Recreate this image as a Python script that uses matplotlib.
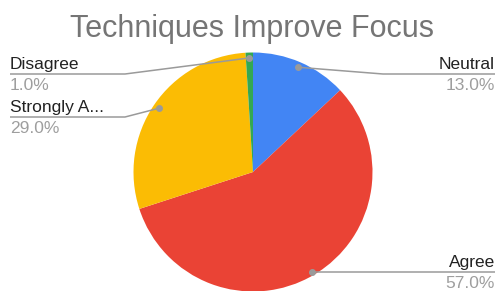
import matplotlib
matplotlib.use("Agg")
import matplotlib.pyplot as plt
import numpy as np

# ---- data ----
categories = ["Neutral", "Agree", "Strongly Agree", "Disagree"]
display_names = ["Neutral", "Agree", "Strongly A...", "Disagree"]
values = [13.0, 57.0, 29.0, 1.0]
colors = ["#4285F4", "#EA4335", "#FBBC04", "#34A853"]
title = "Techniques Improve Focus"

W, H = 497, 291
plt.rcParams['font.family'] = ['Liberation Sans', 'DejaVu Sans']

fig = plt.figure(figsize=(W / 100, H / 100), dpi=100)
ax = fig.add_axes([0, 0, 1, 1])

def up(y):
    return H - y

cx, cy, r = 253, up(172), 119.5
wedges, _ = ax.pie(values, colors=colors, startangle=90, counterclock=False,
                   center=(cx, cy), radius=r, frame=True,
                   wedgeprops=dict(linewidth=0))
ax.set_xlim(0, W)
ax.set_ylim(0, H)
ax.axis('off')

# label layout: (side, line y in image px, elbow x, anchor radius fraction)
layout = {
    "Neutral": ("right", 74, 383, 0.955),
    "Agree": ("right", None, None, 0.975),
    "Strongly Agree": ("left", 117, 125, 0.95),
    "Disagree": ("left", 74, 125, 0.955),
}
line_col = "#9a9a9a"
name_col = "#222222"
pct_col = "#9e9e9e"
fs = 12.5

for w, cat, name, v in zip(wedges, categories, display_names, values):
    ang = np.deg2rad((w.theta1 + w.theta2) / 2)
    side, ly, ex, fr = layout[cat]
    px = cx + fr * r * np.cos(ang)
    py = cy + fr * r * np.sin(ang)
    if side == "right":
        xend = 495
        ha = 'right'
        tx = 495
    else:
        xend = 10
        ha = 'left'
        tx = 10
    if ex is None:
        xs = [px, xend]
        ys = [py, py]
        lyy = py
    else:
        xs = [px, ex, xend]
        ys = [py, up(ly), up(ly)]
        lyy = up(ly)
    ax.plot(xs, ys, color=line_col, lw=1.1, solid_capstyle='butt', zorder=3)
    ax.plot([px], [py], 'o', color=line_col, ms=4, zorder=4)
    ax.text(tx, lyy + 5, name, ha=ha, va='baseline', fontsize=fs, color=name_col)
    ax.text(tx, lyy - 16, f"{v:.1f}%", ha=ha, va='baseline', fontsize=fs, color=pct_col)

ax.text(252.5, up(37), title, ha='center', va='baseline', fontsize=22, color="#757575")

fig.savefig("out.png", dpi=100, facecolor='white')
